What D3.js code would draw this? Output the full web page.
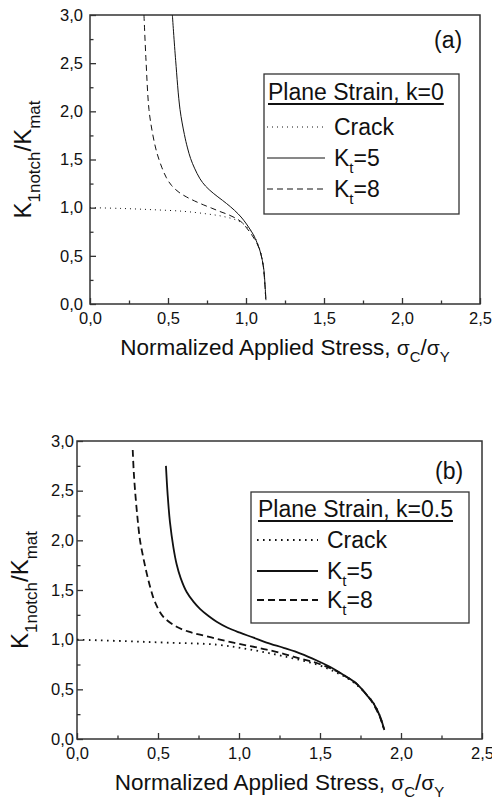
<!DOCTYPE html>
<html lang="en">
<head>
<meta charset="utf-8">
<title></title>
<script src="https://d3js.org/d3.v7.min.js"></script>
<style>
body { margin: 0; background: #fff; }
text { font-family: "Liberation Sans", Arial, sans-serif; fill: #111; }
.frame { fill: none; stroke: #333; stroke-width: 1.5px; }
.tick line { stroke: #333; stroke-width: 1.3px; }
</style>
</head>
<body>
<svg width="492" height="808"></svg>
<script>

// tick values
var xTicks = [0, 0.5, 1, 1.5, 2, 2.5];
var xMinor = [0.25, 0.75, 1.25, 1.75, 2.25];
var yTicks = [0, 0.5, 1, 1.5, 2, 2.5, 3];
var yMinor = [0.25, 0.75, 1.25, 1.75, 2.25, 2.75];

var labels = ["Crack", "Kt=5", "Kt=8"];

// (a) plane strain, k=0   [sigma_C/sigma_Y, K1notch/Kmat]
var crackA = [[0,1.0],[0.2,0.992],[0.4,0.979],[0.6,0.962],[0.75,0.935],[0.85,0.91],[0.94,0.87],[1.0,0.81],[1.05,0.71],[1.09,0.56],[1.11,0.4],[1.12,0.22],[1.126,0.05]];
var kt5A = [[0.528,3.0],[0.549,2.53],[0.577,2.02],[0.605,1.76],[0.625,1.62],[0.645,1.51],[0.67,1.41],[0.705,1.3],[0.74,1.225],[0.79,1.15],[0.85,1.075],[0.9,1.01],[0.95,0.935],[0.985,0.87],[1.02,0.79],[1.047,0.72],[1.07,0.64],[1.09,0.55],[1.105,0.45],[1.115,0.35],[1.122,0.2],[1.128,0.04]];
var kt8A = [[0.346,3.0],[0.359,2.53],[0.378,2.02],[0.4,1.78],[0.427,1.58],[0.46,1.42],[0.49,1.31],[0.523,1.23],[0.57,1.16],[0.62,1.11],[0.67,1.07],[0.726,1.03],[0.78,0.995],[0.833,0.96],[0.89,0.925],[0.94,0.885],[0.975,0.845],[1.004,0.79],[1.04,0.71],[1.07,0.63],[1.09,0.55],[1.11,0.4],[1.12,0.22],[1.127,0.05]];

// (b) plane strain, k=0.5
var crackB = [[0,1.0],[0.3,0.985],[0.55,0.97],[0.86,0.95],[1.07,0.9],[1.27,0.835],[1.48,0.75],[1.6,0.67],[1.7,0.58],[1.78,0.46],[1.83,0.36],[1.87,0.23],[1.893,0.1]];
var kt5B = [[0.549,2.75],[0.56,2.45],[0.574,2.18],[0.595,1.93],[0.615,1.76],[0.64,1.62],[0.677,1.48],[0.72,1.38],[0.759,1.31],[0.81,1.24],[0.862,1.18],[0.93,1.12],[1.006,1.07],[1.09,1.02],[1.17,0.97],[1.28,0.915],[1.38,0.86],[1.48,0.79],[1.58,0.71],[1.66,0.63],[1.73,0.55],[1.79,0.44],[1.83,0.36],[1.87,0.23],[1.897,0.09]];
var kt8B = [[0.344,2.91],[0.35,2.7],[0.358,2.51],[0.372,2.25],[0.389,2.0],[0.41,1.82],[0.43,1.67],[0.455,1.51],[0.481,1.38],[0.533,1.23],[0.615,1.13],[0.69,1.08],[0.759,1.05],[0.86,1.01],[0.965,0.97],[1.07,0.935],[1.171,0.9],[1.28,0.855],[1.377,0.81],[1.48,0.765],[1.58,0.7],[1.66,0.63],[1.73,0.55],[1.79,0.44],[1.83,0.35],[1.87,0.22],[1.895,0.1]];

var svg = d3.select("svg");
var fmt = function(d) { return d3.format(".1f")(d).replace(".", ","); };

function drawPanel(p) {
  var w = p.right - p.left, h = p.bottom - p.top;
  var g = svg.append("g").attr("transform", `translate(${p.left},${p.top})`);
  var x = d3.scaleLinear().domain([0, 2.5]).range([0, w]);
  var y = d3.scaleLinear().domain([0, 3]).range([h, 0]);

  g.append("clipPath").attr("id", "clip" + p.id)
    .append("rect").attr("width", w).attr("height", h);

  // axes, ticks pointing in
  g.append("g").attr("transform", `translate(0,${h})`)
    .call(d3.axisBottom(x).tickValues(xTicks).tickSize(-6).tickPadding(8).tickFormat(fmt));
  g.append("g").attr("transform", `translate(0,${h})`)
    .call(d3.axisBottom(x).tickValues(xMinor).tickSize(-3.5).tickFormat(""));
  g.append("g")
    .call(d3.axisLeft(y).tickValues(yTicks).tickSize(-6).tickPadding(p.yPad).tickFormat(fmt));
  g.append("g")
    .call(d3.axisLeft(y).tickValues(yMinor).tickSize(-3.5).tickFormat(""));
  g.selectAll(".domain").remove();
  g.selectAll(".tick text").attr("font-size", 16.5).attr("font-family", null).attr("fill", "#111");
  g.selectAll(".tick line").attr("stroke", "#333");

  g.append("rect").attr("class", "frame").attr("width", w).attr("height", h);

  var line = d3.line().x(d => x(d[0])).y(d => y(d[1])).curve(d3.curveCatmullRom.alpha(0.5));
  var series = [p.crack, p.kt5, p.kt8];
  var dashes = [p.dot, null, p.dash];

  var lines = g.append("g").attr("clip-path", `url(#clip${p.id})`);
  series.forEach(function(s, i) {
    lines.append("path").datum(s)
      .attr("fill", "none")
      .attr("stroke", "#111")
      .attr("stroke-width", p.lw)
      .attr("stroke-dasharray", dashes[i])
      .attr("d", line);
  });

  // panel tag
  svg.append("text").attr("x", p.tagX).attr("y", p.tagY)
    .attr("font-size", 23).text(p.tag);

  // legend
  var L = p.legend;
  svg.append("rect").attr("x", L.x0).attr("y", L.y0)
    .attr("width", L.x1 - L.x0).attr("height", L.y1 - L.y0)
    .attr("fill", "#fff").attr("stroke", "#333").attr("stroke-width", 1.3);
  var title = svg.append("text").attr("x", L.titleX).attr("y", L.titleY)
    .attr("font-size", 23).text(p.legendTitle);
  var tl = title.node().getComputedTextLength();
  svg.append("line").attr("x1", L.titleX).attr("x2", L.titleX + tl)
    .attr("y1", L.titleY + 4).attr("y2", L.titleY + 4)
    .attr("stroke", "#111").attr("stroke-width", 2);

  labels.forEach(function(lab, i) {
    var by = L.rowY[i];
    svg.append("line").attr("x1", L.lx0).attr("x2", L.lx1)
      .attr("y1", by - 8).attr("y2", by - 8)
      .attr("stroke", "#111").attr("stroke-width", p.lw)
      .attr("stroke-dasharray", dashes[i]);
    var t = svg.append("text").attr("x", L.textX).attr("y", by).attr("font-size", 23);
    if (lab.indexOf("Kt") === 0) {
      t.append("tspan").text("K");
      t.append("tspan").attr("font-size", 15).attr("dy", 7).text("t");
      t.append("tspan").attr("dy", -7).text(lab.slice(2));
    } else {
      t.text(lab);
    }
  });

  // x title
  var xt = svg.append("text").attr("x", p.left + w / 2).attr("y", p.bottom + 51)
    .attr("text-anchor", "middle").attr("font-size", 22.5);
  xt.append("tspan").text("Normalized Applied Stress, ");
  xt.append("tspan").attr("font-size", 21).text("σ");
  xt.append("tspan").attr("font-size", 15).attr("dy", 7).text("C");
  xt.append("tspan").attr("dy", -7).text("/");
  xt.append("tspan").attr("font-size", 21).text("σ");
  xt.append("tspan").attr("font-size", 15).attr("dy", 7).text("Y");

  // y title
  var yt = svg.append("text")
    .attr("transform", `translate(${p.yTitleX},${p.top + h / 2}) rotate(-90)`)
    .attr("text-anchor", "middle").attr("font-size", 24);
  yt.append("tspan").text("K");
  yt.append("tspan").attr("font-size", 17).attr("dy", 9).text("1notch");
  yt.append("tspan").attr("dy", -9).text("/K");
  yt.append("tspan").attr("font-size", 17).attr("dy", 9).text("mat");
}

drawPanel({
  id: "a", left: 90, top: 15, right: 480, bottom: 304, yPad: 7,
  crack: crackA, kt5: kt5A, kt8: kt8A,
  lw: 1, dot: "1,4", dash: "6,4",
  tag: "(a)", tagX: 434, tagY: 48,
  legendTitle: "Plane Strain, k=0",
  legend: { x0: 264, y0: 74, x1: 459, y1: 214, titleX: 268, titleY: 100,
            lx0: 267, lx1: 325, textX: 334, rowY: [135, 166, 197] },
  yTitleX: 31
});

drawPanel({
  id: "b", left: 77, top: 441, right: 482, bottom: 739, yPad: 3,
  crack: crackB, kt5: kt5B, kt8: kt8B,
  lw: 1.8, dot: "1.6,4.4", dash: "7,4",
  tag: "(b)", tagX: 435, tagY: 479,
  legendTitle: "Plane Strain, k=0.5",
  legend: { x0: 251, y0: 492, x1: 469, y1: 623, titleX: 258, titleY: 517,
            lx0: 257, lx1: 318, textX: 327, rowY: [548, 579, 608] },
  yTitleX: 28
});

</script>
</body>
</html>
